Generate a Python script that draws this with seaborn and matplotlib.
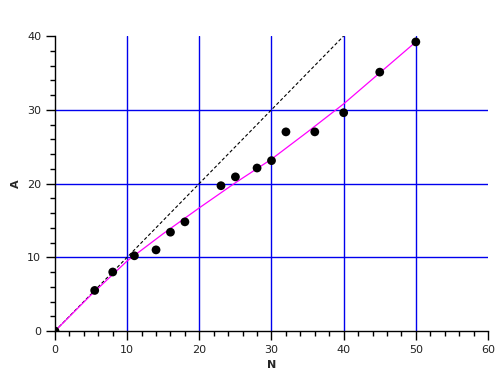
import matplotlib
matplotlib.use("Agg")
import matplotlib.pyplot as plt
import seaborn as sns
import pandas as pd
from matplotlib.ticker import MultipleLocator

# data points
N_pts = [0, 5.5, 8, 11, 14, 16, 18, 23, 25, 28, 30, 32, 36, 40, 45, 50]
A_pts = [0, 5.5, 8.0, 10.2, 11.0, 13.4, 14.8, 19.7, 20.9, 22.1, 23.1, 27.0, 27.0, 29.6, 35.1, 39.2]

# fitted curve
N_fit = [0, 5, 10, 15, 20, 25, 30, 35, 40, 45, 50]
A_fit = [0, 4.9, 9.5, 13.2, 16.7, 20.1, 23.3, 27.0, 30.8, 35.0, 39.2]

# reference line A = N
N_ref = [0, 40]
A_ref = [0, 40]

# grid positions
x_grid = [10, 20, 30, 40, 50]
y_grid = [10, 20, 30]

sns.set_theme(style="white")
plt.rcParams['font.family'] = ['DejaVu Sans']

fig = plt.figure(figsize=(5.02, 3.82), dpi=100)
ax = fig.add_axes([55/502, 1 - 331/382, (488 - 55)/502, (331 - 36)/382])

df_pts = pd.DataFrame({"N": N_pts, "A": A_pts})
df_fit = pd.DataFrame({"N": N_fit, "A": A_fit})
df_ref = pd.DataFrame({"N": N_ref, "A": A_ref})

for xv in x_grid:
    ax.axvline(xv, color="#0000ee", linewidth=1.0, zorder=1)
for yv in y_grid:
    ax.axhline(yv, color="#0000ee", linewidth=1.0, zorder=1)

sns.lineplot(data=df_ref, x="N", y="A", ax=ax, color="black", linewidth=0.8,
             linestyle=(0, (3, 2)), zorder=3)
sns.lineplot(data=df_fit, x="N", y="A", ax=ax, color="#ff00ff", linewidth=0.9, zorder=4)
sns.scatterplot(data=df_pts, x="N", y="A", ax=ax, color="black", s=40,
                edgecolor="none", zorder=5)

ax.set_xlim(0, 60)
ax.set_ylim(0, 40)
ax.xaxis.set_major_locator(MultipleLocator(10))
ax.xaxis.set_minor_locator(MultipleLocator(2))
ax.yaxis.set_major_locator(MultipleLocator(10))
ax.yaxis.set_minor_locator(MultipleLocator(2))

ax.grid(False)
for s in ["top", "right"]:
    ax.spines[s].set_visible(False)
for s in ["left", "bottom"]:
    ax.spines[s].set_color("black")
    ax.spines[s].set_linewidth(1.0)

ax.tick_params(which="major", direction="out", length=6.5, width=1, color="black",
               labelsize=8, labelcolor="#222222", left=True, bottom=True)
ax.tick_params(which="minor", direction="out", length=3.6, width=1, color="black",
               left=True, bottom=True)

ax.set_xlabel("N", fontsize=8, fontweight="bold", labelpad=4)
ax.set_ylabel("A", fontsize=8, fontweight="bold", labelpad=4)

fig.savefig("out.png", dpi=100, facecolor="white")
